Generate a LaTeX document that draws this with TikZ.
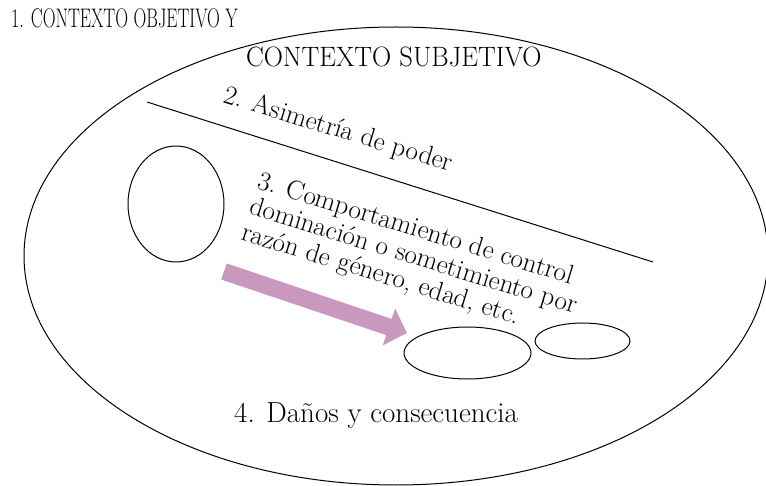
\documentclass[tikz,border=0pt]{standalone}
\usepackage{fontspec}
\usepackage{graphicx}
\usetikzlibrary{shapes.geometric}
\definecolor{arrowpink}{RGB}{200,152,190}
\begin{document}
\begin{tikzpicture}[x=1pt,y=-1pt,
  outl/.style={draw, ellipse, line width=1pt, inner sep=0pt},
  lbl/.style={inner sep=0pt, anchor=base west}]
\useasboundingbox (0,0) rectangle (766,486);
% outer ellipse
\node[outl, minimum width=744pt, minimum height=458pt] (big) at (396,256) {};
% inner ellipses
\node[outl, minimum width=96pt, minimum height=116pt] (e1) at (176,204) {};
\node[outl, minimum width=127pt, minimum height=52pt] (e2) at (467.5,353) {};
\node[outl, minimum width=95pt, minimum height=36pt] (e3) at (582.5,341) {};
% dividing line
\coordinate (la) at (147,102);
\coordinate (lb) at (653,262);
\draw[line width=1pt] (la) -- (lb);
% block arrow
\coordinate (as) at (224,271.5);
\begin{scope}[shift={(as)}, rotate=-18.6]
  \fill[arrowpink] (0,-8.5) -- (174,-8.5) -- (174,-19.5) -- (193,0) -- (174,19.5) -- (174,8.5) -- (0,8.5) -- cycle;
\end{scope}
% texts
\node[lbl] (t1) at (11,28) {\fontsize{28}{30}\selectfont\scalebox{0.636}[0.96]{1. CONTEXTO OBJETIVO Y}};
\node[lbl] (t2) at (246,67) {\fontsize{28}{30}\selectfont\scalebox{0.95}[1.0]{CONTEXTO SUBJETIVO}};
\node[lbl, rotate=-17] (t3) at (222,102) {\fontsize{27}{27}\selectfont 2. Asimetría de poder};
\node[lbl, rotate=-17] (t4) at (256,188) {\fontsize{27}{27}\selectfont\begin{tabular}[t]{@{}l@{}}3. Comportamiento de control\\dominación o sometimiento por\\razón de género, edad, etc.\end{tabular}};
\node[lbl] (t5) at (234,422) {\fontsize{29}{31}\selectfont 4. Daños y consecuencia};
\end{tikzpicture}
\end{document}
